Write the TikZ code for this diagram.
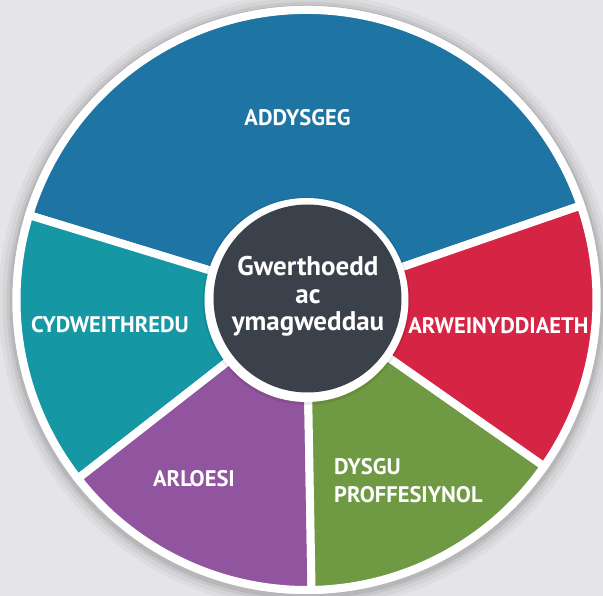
\documentclass[tikz,border=0pt]{standalone}
\usepackage{fontspec}
\setmainfont{PT Sans}
\usepackage{tikz}
\usetikzlibrary{calc, positioning}

\definecolor{bgcolor}{HTML}{E5E5E8}
\definecolor{blueseg}{HTML}{1E74A3}
\definecolor{tealseg}{HTML}{1598A4}
\definecolor{purpleseg}{HTML}{90559E}
\definecolor{greenseg}{HTML}{6F9A43}
\definecolor{redseg}{HTML}{D62444}
\definecolor{hubcolor}{HTML}{3A414B}

\tikzset{
    segment/.style={draw=white, line width=8pt},
    seglabel/.style={text=white, font=\fontsize{22.5}{26}\selectfont\bfseries, inner sep=0pt, anchor=base},
    hublabel/.style={text=white, font=\fontsize{27}{28}\selectfont\bfseries, inner sep=0pt, anchor=base}
}

\begin{document}
\begin{tikzpicture}[x=1pt, y=1pt]

        % Nền xám
        \fill[bgcolor] (-306.5,-296) rectangle (296.5,300);
        \useasboundingbox (-306.5,-296) rectangle (296.5,300);

        % Bóng mờ quanh bánh xe
        \foreach \r/\o in {308/0.03, 304/0.04, 300/0.06, 297/0.08} {
            \fill[black, opacity=\o] (0,-2) circle (\r);
        }
        \fill[white] (0,0) circle (294); % Vành trắng

        % Các phần của bánh xe
        \draw[segment, fill=blueseg] (0,0) -- (19:290) arc (19:163:290) -- cycle; % Addysgeg
        \draw[segment, fill=tealseg] (0,0) -- (163:290) arc (163:218:290) -- cycle; % Cydweithredu
        \draw[segment, fill=purpleseg] (0,0) -- (218:290) arc (218:271:290) -- cycle; % Arloesi
        \draw[segment, fill=greenseg] (0,0) -- (271:290) arc (271:325:290) -- cycle; % Dysgu proffesiynol
        \draw[segment, fill=redseg] (0,0) -- (325:290) arc (325:379:290) -- cycle; % Arweinyddiaeth

        % Vòng tròn giữa
        \fill[black, opacity=0.08] (0,-1) circle (104);
        \fill[white] (0,0) circle (102);
        \fill[hubcolor] (1,1.5) circle (94);

        % Nhãn
        \node[seglabel] (addysgeg) at (-9,174) {ADDYSGEG};
        \node[seglabel] (cydweithredu) at (-196.5,-33) {CYDWEITHREDU};
        \node[seglabel] (arweinyddiaeth) at (192,-34) {ARWEINYDDIAETH};
        \node[seglabel] (arloesi) at (-112.5,-187) {ARLOESI};
        \node[seglabel, anchor=base west] (dysgu) at (27.5,-175) {DYSGU};
        \node[seglabel, anchor=base west] (proffesiynol) at (27.5,-203) {PROFFESIYNOL};

        % Chữ ở tâm
        \node[hublabel] (gwerthoedd) at (1.5,24) {Gwerthoedd};
        \node[hublabel] (ac) at (1.5,-4) {ac};
        \node[hublabel] (ymagweddau) at (1.5,-31) {ymagweddau};

        \end{tikzpicture}
\end{document}
